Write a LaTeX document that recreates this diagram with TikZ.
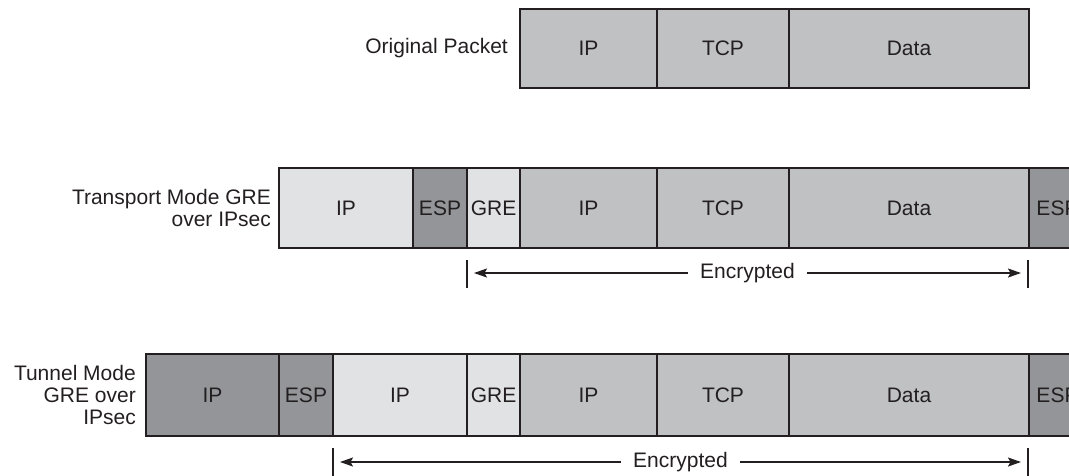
\documentclass[tikz,border=0pt]{standalone}
\usepackage{fontspec}
\setmainfont{Liberation Sans}
\usetikzlibrary{arrows.meta,calc}
\definecolor{lightfill}{HTML}{E1E2E3}
\definecolor{midfill}{HTML}{C0C1C3}
\definecolor{darkfill}{HTML}{939598}
\definecolor{ink}{HTML}{231F20}

% one header field: name, left x, right x, top y, bottom y, fill, label
\newcommand{\pktfield}[7]{%
  \pgfmathsetmacro{\fw}{#3-#2}\pgfmathsetmacro{\fh}{#5-#4}%
  \node[field, fill=#6, minimum width=\fw pt, minimum height=\fh pt]
    (#1) at ({(#2+#3)/2},{(#4+#5)/2}) {#7};}

\begin{document}
\begin{tikzpicture}[x=1pt, y=-1pt,
  every node/.style={font=\fontsize{21}{22}\selectfont, text=ink},
  field/.style={draw=ink, line width=1.3pt, inner sep=0pt, outer sep=0pt},
  rowlabel/.style={anchor=east, align=right, inner sep=0pt},
  limit/.style={draw=ink, line width=1.4pt},
  span/.style={draw=ink, line width=1.8pt, {Stealth[length=13pt,width=9pt,inset=2.5pt]}-{Stealth[length=13pt,width=9pt,inset=2.5pt]}},
  spanlabel/.style={fill=white, inner xsep=12pt, inner ysep=2pt}]
\useasboundingbox (0,0) rectangle (1069,475);
\clip (0,0) rectangle (1069,475);

% original packet
\node[rowlabel] (lblorig) at (508,48) {Original Packet};
\pktfield{oip}{520}{657}{9}{88}{midfill}{IP}
\pktfield{otcp}{657}{789}{9}{88}{midfill}{TCP}
\pktfield{odata}{789}{1029}{9}{88}{midfill}{Data}

% transport mode GRE over IPsec
\node[rowlabel] (lbltrans) at (271,208) {Transport Mode GRE\\over IPsec};
\pktfield{tip}{279}{413}{168}{248}{lightfill}{IP}
\pktfield{tesp}{413}{467}{168}{248}{darkfill}{ESP}
\pktfield{tgre}{467}{520}{168}{248}{lightfill}{GRE}
\pktfield{tiip}{520}{657}{168}{248}{midfill}{IP}
\pktfield{ttcp}{657}{789}{168}{248}{midfill}{TCP}
\pktfield{tdata}{789}{1029}{168}{248}{midfill}{Data}
\pktfield{tesptr}{1029}{1086}{168}{248}{darkfill}{ESP}

% tunnel mode GRE over IPsec
\node[rowlabel] (lbltun) at (136,395) {Tunnel Mode\\GRE over\\IPsec};
\pktfield{uip}{146}{279}{354}{436}{darkfill}{IP}
\pktfield{uesp}{279}{333}{354}{436}{darkfill}{ESP}
\pktfield{uoip}{333}{467}{354}{436}{lightfill}{IP}
\pktfield{ugre}{467}{520}{354}{436}{lightfill}{GRE}
\pktfield{uiip}{520}{657}{354}{436}{midfill}{IP}
\pktfield{utcp}{657}{789}{354}{436}{midfill}{TCP}
\pktfield{udata}{789}{1029}{354}{436}{midfill}{Data}
\pktfield{uesptr}{1029}{1086}{354}{436}{darkfill}{ESP}

% encrypted span, transport mode
\coordinate (tlt) at (467,260); \coordinate (tlb) at (467,288);
\coordinate (trt) at (1028,260); \coordinate (trb) at (1028,288);
\coordinate (tl) at (467,273); \coordinate (tr) at (1028,273);
\draw[limit] (tlt) -- (tlb);
\draw[limit] (trt) -- (trb);
\draw[span, shorten <=7pt, shorten >=7pt] (tl) -- (tr);
\node[spanlabel] (tenc) at ($(tl)!0.5!(tr)$) {Encrypted};

% encrypted span, tunnel mode
\coordinate (ult) at (333,448); \coordinate (ulb) at (333,476);
\coordinate (urt) at (1028,448); \coordinate (urb) at (1028,476);
\coordinate (ul) at (333,462); \coordinate (ur) at (1028,462);
\draw[limit] (ult) -- (ulb);
\draw[limit] (urt) -- (urb);
\draw[span, shorten <=7pt, shorten >=7pt] (ul) -- (ur);
\node[spanlabel] (uenc) at ($(ul)!0.5!(ur)$) {Encrypted};
\end{tikzpicture}
\end{document}
